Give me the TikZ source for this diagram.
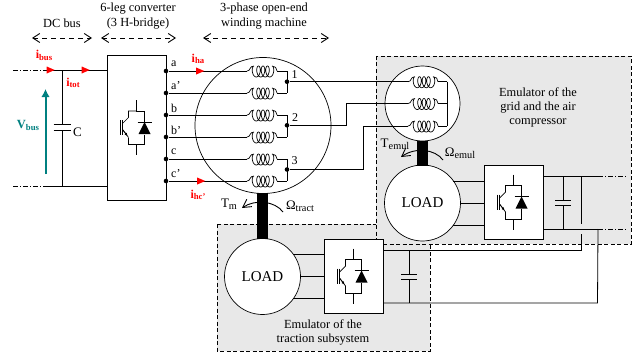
\documentclass[tikz,border=0pt]{standalone}
\usepackage{fontspec}
\setmainfont{Liberation Serif}
\usetikzlibrary{positioning,calc,arrows.meta,shapes.geometric}
\definecolor{busteal}{RGB}{0,128,128}
\newcommand{\lowtext}[1]{\raisebox{-0.3ex}{\fontsize{8.7}{8.7}\selectfont #1}}
\newcommand{\lowwide}[1]{\raisebox{-0.3ex}{\fontsize{10.3}{10.3}\selectfont #1}}
\tikzset{
  wire/.style = {line width = 0.8pt},
  regionbox/.style = {draw, dash pattern = on 4pt off 2.5pt, fill = gray!18, line width = 0.8pt},
  disc/.style = {draw, circle, fill = white, inner sep = 0pt, line width = 0.7pt, font = \fontsize{15}{15}\selectfont},
  powerbox/.style = {draw, rectangle, fill = white, inner sep = 0pt, line width = 0.8pt},
  dot/.style = {circle, fill = black, inner sep = 0pt, minimum size = 4.6pt},
  redtip/.style = {isosceles triangle, isosceles triangle stretches, fill = red, inner sep = 0pt, minimum width = 7pt, minimum height = 8pt},
  caption/.style = {align = center, font = \fontsize{12.4}{14.4}\selectfont},
  tag/.style = {inner sep = 0pt, font = \fontsize{12}{12}\selectfont},
  redtag/.style = {inner sep = 0pt, text = red, font = \fontsize{12}{12}\selectfont\bfseries},
  torquetag/.style = {inner sep = 0pt, font = \fontsize{13}{13}\selectfont},
  span/.style = {dash pattern = on 5pt off 4pt, line width = 0.9pt, {Straight Barb[length = 7pt, width = 9pt]}-{Straight Barb[length = 7pt, width = 9pt]}},
  torque/.style = {line width = 0.9pt, -{Straight Barb[length = 8pt, width = 9pt]}},
  shaft/.style = {fill = black, draw = none, inner sep = 0pt},
  windcoil/.pic = {
    \draw[line width = 0.7pt] (0,0) .. controls (4,0) and (2,-5) .. (7,-5)
      plot[domain = 0:25.13, samples = 120, smooth] ({7+0.716*\x-2.8*sin(\x r)},{0.5-5.5*cos(\x r)})
      .. controls (28,-5) and (30,-3) .. (30,0);
  },
  igbtcell/.pic = {
    \draw[line width = 0.7pt] (0,-27.5) -- (0,-16.5) -- (8,-16.5) -- (8,-5) (8,7) -- (8,17) -- (0,17) -- (0,27.5);
    \draw[line width = 0.7pt] (0,-16.5) -- (-8,-16.5) -- (-8,-10) -- (-14,-4) (-14,2) -- (-8,10);
    \draw[line width = 0.7pt, -{Latex[length = 3pt, width = 3pt]}] (-14,2) -- (-9,8.5);
    \draw[line width = 0.7pt] (-8,10) -- (-8,17) -- (0,17);
    \draw[line width = 0.9pt] (-14,-7.5) -- (-14,7.5) (-16.5,-7.5) -- (-16.5,7.5);
    \draw[line width = 0.7pt] (1,-5.5) -- (15,-5.5);
    \fill (8,-5.5) -- (14,6.5) -- (2,6.5) -- cycle;
  }
}
\begin{document}
\begin{tikzpicture}[x = 1pt, y = -1pt, line cap = butt]
\useasboundingbox (0,0) rectangle (642,353);
% shaded emulators
\draw[regionbox] (217,224) rectangle (430,351);
\draw[regionbox] (376,56) rectangle (631,244);
% titles
\node[caption] (dctitle) at (62,23) {DC bus};
\node[caption] (convtitle) at (138,16) {6-leg converter\\(3 H-bridge)};
\node[caption] (machtitle) at (264,16) {3-phase open-end\\winding machine};
\coordinate (dcl) at (32,38);
\coordinate (dcr) at (92,38);
\coordinate (convl) at (101,38);
\coordinate (convr) at (176,38);
\coordinate (machl) at (203,38);
\coordinate (machr) at (329,38);
\draw[span] (dcl) -- (dcr);
\draw[span] (convl) -- (convr);
\draw[span] (machl) -- (machr);
\node[caption] (gridtext) at (538,107.5) {Emulator of the\\grid and the air\\compressor};
\node[caption] (tractext) at (323,332.5) {Emulator of the\\traction subsystem};
% main boxes
\node[powerbox, minimum width = 59pt, minimum height = 145pt] (conv) at (136.5,127.5) {};
\pic at (conv.center) {igbtcell};
\node[disc, minimum size = 136pt] (mach) at (263,125.5) {};
\node[disc, minimum size = 75pt] (emul) at (422.5,103.5) {};
\node[disc, minimum size = 76pt] (loadg) at (422.5,203) {LOAD};
\node[disc, minimum size = 76pt] (loadt) at (262.5,276.5) {LOAD};
\node[powerbox, minimum width = 59pt, minimum height = 74pt] (boxg) at (513.5,202) {};
\pic at (boxg.center) {igbtcell};
\node[powerbox, minimum width = 59pt, minimum height = 74pt] (boxt) at (353.5,276) {};
\pic at (boxt.center) {igbtcell};
% shafts
\node[shaft, minimum width = 11pt, minimum height = 46pt] (shafta) at (262.5,216) {};
\node[shaft, minimum width = 11pt, minimum height = 25pt] (shaftb) at (422.5,153.5) {};
% DC bus
\coordinate (bushi) at (13,70);
\coordinate (buslo) at (13,186);
\coordinate (bushj) at (45,70);
\coordinate (buslj) at (43,186);
\coordinate (caphi) at (62,70);
\coordinate (caplo) at (62,186);
\coordinate (cap1) at (62,124);
\coordinate (cap2) at (62,130.5);
\draw[wire, dash pattern = on 5pt off 2pt on 1pt off 2pt] (bushi) -- (bushj);
\draw[wire, dash pattern = on 5pt off 2pt on 1pt off 2pt] (buslo) -- (buslj);
\draw[wire] (bushj) -- (conv.west |- bushj);
\draw[wire] (buslj) -- (conv.west |- buslj);
\draw[wire] (caphi) -- (cap1) (cap2) -- (caplo);
\draw[wire] ([xshift = -8.5pt]cap1) -- ([xshift = 8.5pt]cap1);
\draw[wire] ([xshift = -8.5pt]cap2) -- ([xshift = 8.5pt]cap2);
\node[tag, anchor = west, font = \fontsize{13}{13}\selectfont] (capname) at (73,132) {C};
\node[redtip] (tipbus) at (49,70) {};
\node[redtip] (tiptot) at (84,70) {};
\node[redtag] (ibus) at (44,55.5) {i\lowtext{bus}};
\node[redtag] (itot) at (73,83) {i\lowtext{tot}};
\coordinate (vlo) at (45.5,174);
\coordinate (vhi) at (45.5,89);
\draw[line width = 2pt, busteal, -{Latex[length = 8pt, width = 8.5pt]}] (vlo) -- (vhi);
\node[inner sep = 0pt, text = busteal, font = \fontsize{12.5}{12.5}\selectfont\bfseries] (vbus) at (28,125.5) {V\lowtext{bus}};
% phases
\foreach \nam/\yy/\lab in {a/71/a,ap/93/a',b/115/b,bp/137/b',c/159/c,cp/181/c'} {
  \node[dot] (t\nam) at (166,\yy) {};
  \coordinate (in\nam) at (247,\yy);
  \coordinate (out\nam) at (277,\yy);
  \coordinate (end\nam) at (287,\yy);
  \node[tag, anchor = west] (lab\nam) at (171,\yy-7) {\lab};
  \draw[wire] (t\nam) -- (in\nam);
  \pic at (in\nam) {windcoil};
  \draw[wire] (out\nam) -- (end\nam);
}
\draw[wire] (enda) -- (endap);
\draw[wire] (endb) -- (endbp);
\draw[wire] (endc) -- (endcp);
\node[dot] (n1) at (287,81.7) {};
\node[dot] (n2) at (287,125.3) {};
\node[dot] (n3) at (287,169.5) {};
\node[tag] (lab1) at (294.5,75) {1};
\node[tag] (lab2) at (295,118) {2};
\node[tag] (lab3) at (294.5,161) {3};
\node[redtip] (tipa) at (198.5,71) {};
\node[redtip] (tipc) at (199.5,181) {};
\node[redtag] (iha) at (198,59) {i\lowtext{ha}};
\node[redtag] (ihc) at (198,195) {i\lowtext{hc'}};
% emulator winding
\foreach \nam/\yy in {x/81.7,y/103.5,z/126} {
  \coordinate (in\nam) at (408,\yy);
  \coordinate (out\nam) at (438,\yy);
  \coordinate (end\nam) at (447,\yy);
  \pic at (in\nam) {windcoil};
  \draw[wire] (out\nam) -- (end\nam);
}
\draw[wire] (endx) -- (endz);
\draw[wire] (n1) -- (inx);
\draw[wire] (n2) -| (346,103.5) -- (iny);
\draw[wire] (n3) -| (363,126) -- (inz);
% torque and speed
\coordinate (tma) at (283,212);
\coordinate (tmb) at (242,208);
\coordinate (tga) at (443,160);
\coordinate (tgb) at (401,157);
\draw[torque] (tma) .. controls (275,201) and (255,199) .. (tmb);
\draw[torque] (tga) .. controls (435,149) and (415,147) .. (tgb);
\node[torquetag] (tm) at (229,204) {T\lowwide{m}};
\node[torquetag] (om) at (300,206) {Ω\lowwide{tract}};
\node[torquetag] (te) at (395,144) {T\lowwide{emul}};
\node[torquetag] (oe) at (460,153) {Ω\lowwide{emul}};
% load wiring
\foreach \ld/\bx/\yc/\off in {loadg/boxg/203/22,loadt/boxt/276.5/22} {
  \draw[wire] (\ld.east) -- (\bx.west |- \ld.east);
  \draw[wire] ($(\ld.east)+(-8,-\off)$) -- (\bx.west |- 0,\yc-\off);
  \draw[wire] ($(\ld.east)+(-8,\off)$) -- (\bx.west |- 0,\yc+\off);
}
% right hand DC links
\coordinate (gtop) at (598,176);
\coordinate (glow) at (598,229);
\coordinate (gtopend) at (627,176);
\coordinate (glowend) at (627,229);
\coordinate (gcap1) at (563,200);
\coordinate (gcap2) at (563,205);
\coordinate (tcap1) at (409,274);
\coordinate (tcap2) at (409,279);
\draw[wire] (boxg.east |- gtop) -- (gtop);
\draw[wire] (boxg.east |- glow) -- (glow);
\draw[wire, dash pattern = on 5pt off 2pt on 1pt off 2pt] (gtop) -- (gtopend);
\draw[wire, dash pattern = on 5pt off 2pt on 1pt off 2pt] (glow) -- (glowend);
\draw[wire] (gcap1 |- gtop) -- (gcap1) (gcap2) -- (gcap2 |- glow);
\draw[wire] ([xshift = -8pt]gcap1) -- ([xshift = 8pt]gcap1);
\draw[wire] ([xshift = -8pt]gcap2) -- ([xshift = 8pt]gcap2);
\draw[wire] (581,176) -- (581,224);
\draw[wire] (581,234) -- (581,250) -- (boxt.east |- 0,250);
\draw[wire] (glow) -- (597.5,303) -- (boxt.east |- 0,303);
\draw[wire] (tcap1 |- 0,250) -- (tcap1) (tcap2) -- (tcap2 |- 0,303);
\draw[wire] ([xshift = -8pt]tcap1) -- ([xshift = 8pt]tcap1);
\draw[wire] ([xshift = -8pt]tcap2) -- ([xshift = 8pt]tcap2);
\end{tikzpicture}
\end{document}
